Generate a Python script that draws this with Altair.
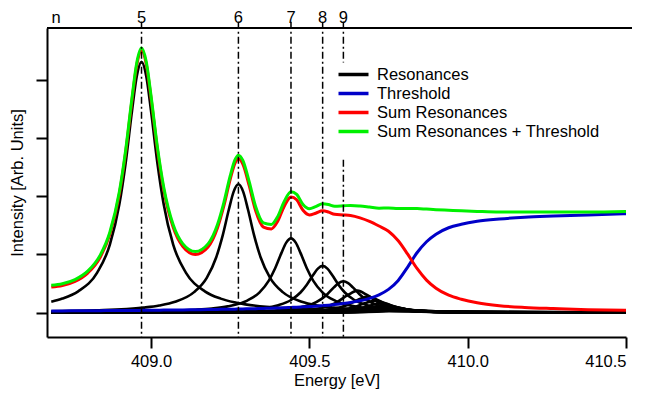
import altair as alt
import pandas as pd

# ---------------- data ----------------
SERIES = ["Resonances", "Threshold", "Sum Resonances", "Sum Resonances + Threshold"]
COLORS = ["#000000", "#0000c8", "#ff0000", "#00f000"]

X_TICKS = [409.0, 409.5, 410.0, 410.5]
Y_TICKS = [0, 1, 2, 3, 4]

N_LABELS = ["n", "5", "6", "7", "8", "9"]
N_LABEL_E = [408.70, 408.970, 409.276, 409.442, 409.542, 409.6075]

RULE_E = [408.970, 409.276, 409.442, 409.542, 409.6075, 409.6075]
RULE_TOP = [5.0, 5.0, 5.0, 5.0, 5.0, 2.63]
RULE_BOTTOM = [-0.418, -0.418, -0.418, -0.418, 4.30, -0.418]

# individual resonances (energy, intensity)
RES5_E = [408.685, 408.72, 408.77, 408.83, 408.87, 408.90, 408.92, 408.94, 408.955, 408.97, 408.985, 409.00,
          409.02, 409.04, 409.07, 409.11, 409.17, 409.22, 409.27, 409.42, 409.67, 410.00, 410.50]
RES5_I = [0.189, 0.242, 0.367, 0.690, 1.168, 1.862, 2.577, 3.470, 4.064, 4.310, 4.064, 3.470,
          2.577, 1.862, 1.168, 0.690, 0.367, 0.242, 0.171, 0.0776, 0.0325, 0.0151, 0.0069]

RES6_E = [408.685, 408.826, 408.976, 409.026, 409.076, 409.136, 409.176, 409.206, 409.226, 409.246, 409.261, 409.276,
          409.291, 409.306, 409.326, 409.346, 409.376, 409.416, 409.476, 409.526, 409.576, 409.726, 409.976, 410.50]
RES6_I = [0.0233, 0.0397, 0.0876, 0.124, 0.188, 0.353, 0.598, 0.953, 1.320, 1.777, 2.081, 2.207,
          2.081, 1.777, 1.320, 0.953, 0.598, 0.353, 0.188, 0.124, 0.0876, 0.0397, 0.0166, 0.0055]

RES7_E = [408.685, 408.892, 409.042, 409.142, 409.192, 409.242, 409.302, 409.342, 409.372, 409.392, 409.412, 409.427,
          409.442, 409.457, 409.472, 409.492, 409.512, 409.542, 409.582, 409.642, 409.692, 409.742, 409.892, 410.142, 410.50]
RES7_I = [0.0082, 0.0156, 0.0290, 0.0507, 0.0718, 0.1087, 0.2043, 0.346, 0.552, 0.764, 1.028, 1.204,
          1.277, 1.204, 1.028, 0.764, 0.552, 0.346, 0.204, 0.109, 0.0718, 0.0507, 0.0230, 0.0096, 0.0042]

RES8_E = [408.685, 409.092, 409.242, 409.292, 409.342, 409.402, 409.442, 409.472, 409.492, 409.512, 409.527, 409.542,
          409.557, 409.572, 409.592, 409.612, 409.642, 409.682, 409.742, 409.792, 409.842, 409.992, 410.242, 410.50]
RES8_I = [0.0041, 0.0145, 0.0319, 0.0452, 0.0684, 0.1286, 0.2179, 0.347, 0.481, 0.647, 0.758, 0.804,
          0.758, 0.647, 0.481, 0.347, 0.218, 0.129, 0.0684, 0.0452, 0.0319, 0.0145, 0.0061, 0.0032]

RES9_E = [408.685, 409.1575, 409.3075, 409.3575, 409.4075, 409.4675, 409.5075, 409.5375, 409.5575, 409.5775, 409.5925,
          409.6075, 409.6225, 409.6375, 409.6575, 409.6775, 409.7075, 409.7475, 409.8075, 409.8575, 409.9075, 410.0575,
          410.3075, 410.50]
RES9_I = [0.0023, 0.0097, 0.0214, 0.0303, 0.0459, 0.0862, 0.146, 0.233, 0.322, 0.434, 0.508,
          0.539, 0.508, 0.434, 0.322, 0.233, 0.146, 0.0862, 0.0459, 0.0303, 0.0214, 0.0097,
          0.0041, 0.0025]

RES10_E = [408.685, 409.352, 409.452, 409.532, 409.582, 409.622, 409.652, 409.682, 409.722, 409.772, 409.852, 409.952, 410.252, 410.50]
RES10_I = [0.0015, 0.0150, 0.0322, 0.0776, 0.1635, 0.3046, 0.3784, 0.3046, 0.1635, 0.0776, 0.0322, 0.0150, 0.0039, 0.0019]

RES11_E = [408.685, 409.384, 409.484, 409.564, 409.614, 409.654, 409.684, 409.714, 409.754, 409.804, 409.884, 409.984, 410.284, 410.50]
RES11_I = [0.0010, 0.0109, 0.0235, 0.0565, 0.1191, 0.2220, 0.2758, 0.2220, 0.1191, 0.0565, 0.0235, 0.0109, 0.0028, 0.0015]

RES12_E = [408.685, 409.4076, 409.5076, 409.5876, 409.6376, 409.6776, 409.7076, 409.7376, 409.7776, 409.8276, 409.9076, 410.0076, 410.3076, 410.50]
RES12_I = [0.0007, 0.0082, 0.0176, 0.0425, 0.0895, 0.1668, 0.2072, 0.1668, 0.0895, 0.0425, 0.0176, 0.0082, 0.0021, 0.0012]

RES13_E = [408.685, 409.4256, 409.5256, 409.6056, 409.6556, 409.6956, 409.7256, 409.7556, 409.7956, 409.8456, 409.9256, 410.0256, 410.3256, 410.50]
RES13_I = [0.0005, 0.0063, 0.0136, 0.0327, 0.0689, 0.1285, 0.1596, 0.1285, 0.0689, 0.0327, 0.0136, 0.0063, 0.0016, 0.0010]

RES14_E = [408.685, 409.4395, 409.5395, 409.6195, 409.6695, 409.7095, 409.7395, 409.7695, 409.8095, 409.8595, 409.9395, 410.0395, 410.3395, 410.50]
RES14_I = [0.0004, 0.0050, 0.0107, 0.0257, 0.0543, 0.1011, 0.1256, 0.1011, 0.0543, 0.0257, 0.0107, 0.0050, 0.0013, 0.0008]

RES15_E = [408.685, 409.5506, 409.6806, 409.7206, 409.7506, 409.7806, 409.8206, 409.9506, 410.50]
RES15_I = [0.0003, 0.0086, 0.0434, 0.0809, 0.1005, 0.0809, 0.0434, 0.0086, 0.0007]
RES16_E = [408.685, 409.5596, 409.6896, 409.7296, 409.7596, 409.7896, 409.8296, 409.9596, 410.50]
RES16_I = [0.0002, 0.0070, 0.0353, 0.0658, 0.0817, 0.0658, 0.0353, 0.0070, 0.0005]
RES17_E = [408.685, 409.5669, 409.6969, 409.7369, 409.7669, 409.7969, 409.8369, 409.9669, 410.50]
RES17_I = [0.0002, 0.0057, 0.0291, 0.0542, 0.0673, 0.0542, 0.0291, 0.0057, 0.0004]
RES18_E = [408.685, 409.5729, 409.7029, 409.7429, 409.7729, 409.8029, 409.8429, 409.9729, 410.50]
RES18_I = [0.0002, 0.0048, 0.0242, 0.0452, 0.0561, 0.0452, 0.0242, 0.0048, 0.0004]
RES19_E = [408.685, 409.578, 409.708, 409.748, 409.778, 409.808, 409.848, 409.978, 410.50]
RES19_I = [0.0001, 0.0040, 0.0204, 0.0381, 0.0473, 0.0381, 0.0204, 0.0040, 0.0003]
RES20_E = [408.685, 409.5823, 409.7123, 409.7523, 409.7823, 409.8123, 409.8523, 409.9823, 410.50]
RES20_I = [0.0001, 0.0034, 0.0174, 0.0324, 0.0402, 0.0324, 0.0174, 0.0034, 0.0003]

RESONANCES = [
    (5, RES5_E, RES5_I), (6, RES6_E, RES6_I), (7, RES7_E, RES7_I), (8, RES8_E, RES8_I),
    (9, RES9_E, RES9_I), (10, RES10_E, RES10_I), (11, RES11_E, RES11_I), (12, RES12_E, RES12_I),
    (13, RES13_E, RES13_I), (14, RES14_E, RES14_I), (15, RES15_E, RES15_I), (16, RES16_E, RES16_I),
    (17, RES17_E, RES17_I), (18, RES18_E, RES18_I), (19, RES19_E, RES19_I), (20, RES20_E, RES20_I),
]

# summed curves on a common energy grid
SUM_E = [408.685, 408.72, 408.76, 408.80, 408.84, 408.87, 408.90, 408.92, 408.94, 408.955,
         408.97, 408.985, 409.00, 409.02, 409.04, 409.07, 409.10, 409.14, 409.18, 409.21,
         409.23, 409.25, 409.265, 409.276, 409.29, 409.31, 409.33, 409.355, 409.38, 409.40,
         409.42, 409.442, 409.46, 409.48, 409.50, 409.52, 409.542, 409.56, 409.58, 409.6075,
         409.63, 409.66, 409.69, 409.72, 409.75, 409.78, 409.81, 409.84, 409.87, 409.90,
         409.94, 409.98, 410.03, 410.10, 410.18, 410.27, 410.38, 410.50]
SUM_RES = [0.442, 0.467, 0.537, 0.680, 0.958, 1.346, 2.041, 2.759, 3.658, 4.257,
           4.509, 4.271, 3.687, 2.811, 2.117, 1.466, 1.141, 1.001, 1.129, 1.460,
           1.834, 2.291, 2.566, 2.645, 2.554, 2.184, 1.76, 1.47, 1.44, 1.57,
           1.82, 1.99, 1.94, 1.76, 1.68, 1.71, 1.75, 1.73, 1.69, 1.68,
           1.67, 1.63, 1.57, 1.49, 1.40, 1.24, 1.01, 0.76, 0.56, 0.42,
           0.30, 0.23, 0.17, 0.12, 0.09, 0.07, 0.05, 0.04]
THRESHOLD = [0.030, 0.031, 0.032, 0.033, 0.035, 0.036, 0.037, 0.038, 0.039, 0.039,
             0.040, 0.041, 0.042, 0.043, 0.044, 0.045, 0.047, 0.050, 0.053, 0.056,
             0.058, 0.060, 0.061, 0.063, 0.064, 0.067, 0.069, 0.073, 0.077, 0.081,
             0.085, 0.090, 0.094, 0.100, 0.106, 0.112, 0.121, 0.129, 0.140, 0.157,
             0.174, 0.204, 0.246, 0.307, 0.40, 0.55, 0.78, 1.03, 1.22, 1.35,
             1.46, 1.52, 1.57, 1.61, 1.64, 1.66, 1.68, 1.70]
SUM_TOTAL = [0.472, 0.498, 0.569, 0.713, 0.993, 1.382, 2.078, 2.797, 3.697, 4.296,
             4.549, 4.312, 3.729, 2.854, 2.161, 1.511, 1.188, 1.051, 1.182, 1.516,
             1.892, 2.351, 2.627, 2.708, 2.618, 2.251, 1.829, 1.543, 1.517, 1.651,
             1.905, 2.080, 2.034, 1.860, 1.786, 1.822, 1.871, 1.859, 1.830, 1.837,
             1.844, 1.834, 1.816, 1.797, 1.80, 1.79, 1.79, 1.79, 1.78, 1.77,
             1.76, 1.75, 1.74, 1.73, 1.73, 1.73, 1.73, 1.74]

# ---------------- tables ----------------
rows = []
for n, es, ints in RESONANCES:
    for e, v in zip(es, ints):
        rows.append({"E": e, "I": v, "series": SERIES[0], "curve": f"n{n}"})
res_df = pd.DataFrame(rows)
thr_df = pd.DataFrame({"E": SUM_E, "I": THRESHOLD, "series": SERIES[1]})
sum_df = pd.DataFrame({"E": SUM_E, "I": SUM_RES, "series": SERIES[2]})
tot_df = pd.DataFrame({"E": SUM_E, "I": SUM_TOTAL, "series": SERIES[3]})
rule_df = pd.DataFrame({"E": RULE_E, "top": RULE_TOP, "bottom": RULE_BOTTOM})
lab_df = pd.DataFrame({"E": N_LABEL_E, "label": N_LABELS})

FONT = "Liberation Sans"
FS = 16.5
W, H = 579, 309

xscale = alt.Scale(domain=[408.6715, 410.5], nice=False, zero=False)
yscale = alt.Scale(domain=[-0.418, 4.893], nice=False, zero=False)

X_AXIS = alt.Axis(values=X_TICKS, format=".1f", title="Energy [eV]", tickSize=11,
                  labelPadding=5, titlePadding=3, grid=False)
Y_AXIS = alt.Axis(values=Y_TICKS, labels=False, title="Intensity [Arb. Units]",
                  tickSize=11, titlePadding=10, grid=False)

color = alt.Color(
    "series:N",
    scale=alt.Scale(domain=SERIES, range=COLORS),
    legend=alt.Legend(
        title=None, orient="none", legendX=289.5, legendY=37,
        symbolType="M-1,0L3,0", symbolSize=225, symbolStrokeWidth=3.5,
        labelFont=FONT, labelFontSize=FS, labelColor="black", labelOffset=21.5,
        labelLimit=400, rowPadding=1, padding=0,
    ),
)

xe = alt.X("E:Q", scale=xscale, axis=X_AXIS)
yi = alt.Y("I:Q", scale=yscale, axis=Y_AXIS)

black = alt.Chart(res_df).mark_line(interpolate="monotone", strokeWidth=2.6).encode(
    x=xe, y=yi, color=color, detail="curve:N")
blue = alt.Chart(thr_df).mark_line(interpolate="monotone", strokeWidth=3).encode(
    x=xe, y=yi, color=color)
red = alt.Chart(sum_df).mark_line(interpolate="monotone", strokeWidth=3).encode(
    x=xe, y=yi, color=color)
green = alt.Chart(tot_df).mark_line(interpolate="monotone", strokeWidth=3).encode(
    x=xe, y=yi, color=color)

rules = alt.Chart(rule_df).mark_rule(color="black", strokeWidth=1.5, strokeDash=[7, 3, 2, 3]).encode(
    x=xe,
    y=alt.Y("top:Q", scale=yscale, axis=Y_AXIS),
    y2="bottom:Q",
)

# top frame line of the plot
frame_top = alt.Chart(pd.DataFrame({"k": [0]})).mark_rule(color="black", strokeWidth=2).encode(
    x=alt.value(0), x2=alt.value(W + 6), y=alt.value(0))

labels = alt.Chart(lab_df).mark_text(
    font=FONT, fontSize=FS, color="black", align="center", baseline="alphabetic"
).encode(
    x=xe,
    y=alt.value(-5),
    text="label:N",
)

chart = alt.layer(black, blue, red, green, rules, frame_top, labels).properties(
    width=W, height=H,
    autosize=alt.AutoSizeParams(type="none"),
    padding={"left": 39, "top": 20, "right": 12, "bottom": 58},
).configure_axis(
    domainColor="black", domainWidth=2, tickColor="black", tickWidth=2,
    labelColor="black", titleColor="black", labelFont=FONT, titleFont=FONT,
    labelFontSize=FS, titleFontSize=FS, titleFontWeight="normal",
).configure_view(strokeWidth=0)

chart.save("out.html", embed_options={"renderer": "svg", "actions": False})
